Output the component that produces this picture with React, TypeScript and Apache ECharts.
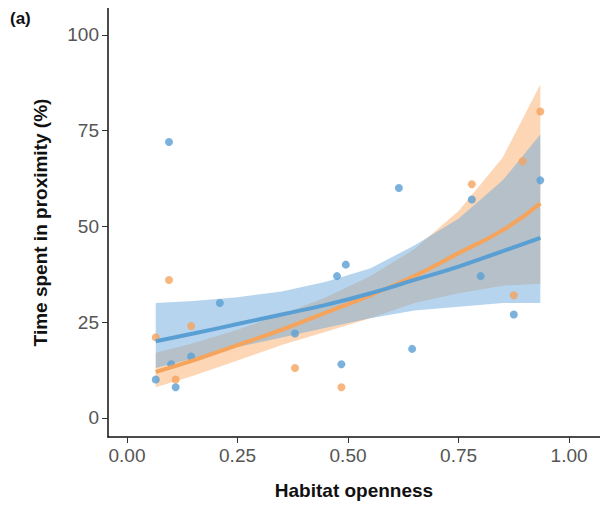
import { useEffect, useRef } from "react";
import * as echarts from "echarts";

const blueX = [0.065, 0.095, 0.1, 0.11, 0.145, 0.21, 0.38, 0.475, 0.485, 0.495, 0.615, 0.645, 0.78, 0.8, 0.875, 0.935];
const blueY = [10, 72, 14, 8, 16, 30, 22, 37, 14, 40, 60, 18, 57, 37, 27, 62];
const orangeX = [0.065, 0.095, 0.11, 0.145, 0.38, 0.485, 0.78, 0.875, 0.895, 0.935];
const orangeY = [21, 36, 10, 24, 13, 8, 61, 32, 67, 80];

const fitX = [0.065, 0.15, 0.25, 0.35, 0.45, 0.55, 0.65, 0.75, 0.85, 0.935];
const blueFit = [20, 22, 24.5, 27, 29.5, 32.5, 36, 39.5, 43.5, 47];
const blueLow = [13, 15.5, 18.5, 21, 23.5, 26, 28, 29, 30, 30];
const blueHigh = [30, 30.5, 31.5, 33, 35.5, 39, 45, 52, 62, 74];
const orangeFit = [12, 15, 19, 23, 27.5, 32, 37, 43, 49, 56];
const orangeLow = [8, 11, 15, 19, 22.5, 26, 30, 32.5, 34.5, 35];
const orangeHigh = [17, 19.5, 23, 27, 31.5, 37, 44, 54, 68, 87];

const xTicks = [0, 0.25, 0.5, 0.75, 1];
const yTicks = [0, 25, 50, 75, 100];

const BLUE = "#5a9fd4";
const ORANGE = "#f6a35c";

// confidence ribbon drawn as one polygon through the axis scales
const band = (low: number[], high: number[], color: string) => ({
  type: "custom",
  silent: true,
  data: [0],
  renderItem: (_p: any, api: any) => {
    const lowPts = fitX.map((x, i) => api.coord([x, low[i]]));
    const highPts = fitX.map((x, i) => api.coord([x, high[i]])).reverse();
    return {
      type: "polygon",
      shape: { points: [...lowPts, ...highPts] },
      style: { fill: color },
    };
  },
});

export default function App() {
  const ref = useRef<HTMLDivElement>(null);

  useEffect(() => {
    if (!ref.current) return;
    const chart = echarts.init(ref.current, undefined, { renderer: "svg" });
    const font = "Liberation Sans, Arial, sans-serif";
    chart.setOption({
      animation: false,
      textStyle: { fontFamily: font },
      graphic: [
        { type: "text", left: 2, top: 2, style: { text: "(a)", font: `bold 17px ${font}`, fill: "#111" } },
      ],
      grid: { left: 100, right: 0, top: 0, bottom: 64, outerBoundsMode: "none", containLabel: false },
      xAxis: {
        type: "value",
        min: -0.043,
        max: 1.07,
        name: "Habitat openness",
        nameLocation: "middle",
        nameGap: 44,
        nameTextStyle: { fontSize: 19, fontWeight: "bold", color: "#111", fontFamily: font },
        axisLine: { onZero: false, lineStyle: { color: "#111", width: 1.5 } },
        axisTick: { customValues: xTicks, length: 6, lineStyle: { color: "#333" } },
        axisLabel: { customValues: xTicks, formatter: (v: number) => v.toFixed(2), fontSize: 19, color: "#555", margin: 9 },
        splitLine: { show: false },
      },
      yAxis: {
        type: "value",
        min: -5,
        max: 107,
        name: "Time spent in proximity (%)",
        nameLocation: "middle",
        nameGap: 58,
        nameTextStyle: { fontSize: 19, fontWeight: "bold", color: "#111", fontFamily: font },
        axisLine: { show: true, onZero: false, lineStyle: { color: "#111", width: 1.5 } },
        axisTick: { show: true, customValues: yTicks, length: 6, lineStyle: { color: "#333" } },
        axisLabel: { customValues: yTicks, fontSize: 19, color: "#555", margin: 9 },
        splitLine: { show: false },
      },
      series: [
        band(orangeLow, orangeHigh, "rgba(250,180,120,0.55)"),
        band(blueLow, blueHigh, "rgba(110,170,220,0.5)"),
        {
          type: "line",
          smooth: true,
          symbol: "none",
          lineStyle: { color: ORANGE, width: 4 },
          data: fitX.map((x, i) => [x, orangeFit[i]]),
        },
        {
          type: "line",
          smooth: true,
          symbol: "none",
          lineStyle: { color: BLUE, width: 4 },
          data: fitX.map((x, i) => [x, blueFit[i]]),
        },
        {
          type: "scatter",
          symbolSize: 8,
          itemStyle: { color: ORANGE },
          data: orangeX.map((x, i) => [x, orangeY[i]]),
        },
        {
          type: "scatter",
          symbolSize: 8,
          itemStyle: { color: BLUE },
          data: blueX.map((x, i) => [x, blueY[i]]),
        },
      ],
    });
    return () => chart.dispose();
  }, []);

  return <div ref={ref} style={{ width: 592, height: 493 }} />;
}
